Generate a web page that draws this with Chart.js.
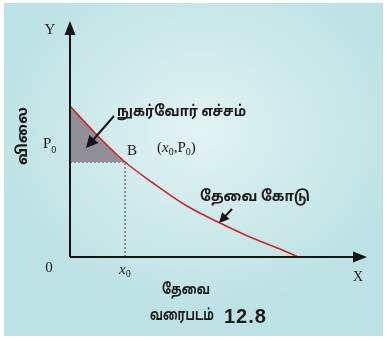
<!DOCTYPE html>
<html><head><meta charset="utf-8">
<script src="https://cdn.jsdelivr.net/npm/chart.js@4"></script>
<style>
html,body{margin:0;padding:0;background:#fff;width:387px;height:341px;overflow:hidden}
#bg{position:absolute;left:4px;top:3px;width:379px;height:333px;background:radial-gradient(ellipse 210px 180px at 196px 128px,#e3f3f2 0%,#cfeaeb 50%,#bde2e5 100%)}
#wrap{position:absolute;left:0;top:0;width:387px;height:341px}
</style></head><body>
<div id="bg"></div>
<div id="wrap"><canvas id="c" width="387" height="341"></canvas></div>
<script>
// demand curve (quantity, price)
const demandQty   = [0, 25, 55, 83, 117, 150, 180, 210, 228];
const demandPrice = [151, 124, 95, 74, 51, 34, 20, 8, 0];
const x0 = 55;      // equilibrium quantity
const p0 = 95;      // equilibrium price
const xMax = 297, yMax = 236;

const txtTamilSurplus = 'நுகர்வோர் எச்சம்';
const txtTamilDemandCurve = 'தேவை கோடு';
const txtTamilDemand = 'தேவை';
const txtTamilPrice = 'விலை';
const txtCaptionWord = 'வரைபடம்';
const txtCaptionNum = '12.8';

const tamilFont = '"Noto Sans Tamil","Lohit Tamil","Latha","Noto Sans",sans-serif';
const serif = '"Liberation Serif","DejaVu Serif",serif';
const sans = '"Liberation Sans","Arial",sans-serif';

const curveData = demandQty.map((q,i)=>({x:q,y:demandPrice[i]}));
const dottedData = [{x:0,y:p0},{x:x0,y:p0},{x:x0,y:0}];

function arrow(ctx, x1,y1,x2,y2, head, w){
  const a=Math.atan2(y2-y1,x2-x1);
  ctx.beginPath();ctx.moveTo(x1,y1);
  ctx.lineTo(x2-Math.cos(a)*head*0.8,y2-Math.sin(a)*head*0.8);ctx.stroke();
  ctx.beginPath();ctx.moveTo(x2,y2);
  ctx.lineTo(x2-Math.cos(a)*head+Math.sin(a)*w, y2-Math.sin(a)*head-Math.cos(a)*w);
  ctx.lineTo(x2-Math.cos(a)*head-Math.sin(a)*w, y2-Math.sin(a)*head+Math.cos(a)*w);
  ctx.closePath();ctx.fill();
}
function sub(ctx, parts, x, y){
  let cx=x;
  for(const [t,f,dy] of parts){ctx.font=f;ctx.fillText(t,cx,y+dy);cx+=ctx.measureText(t).width;}
}

const deco = {
  id:'deco',
  afterDraw(chart){
    const ctx=chart.ctx, xs=chart.scales.x, ys=chart.scales.y;
    const X=v=>xs.getPixelForValue(v), Y=v=>ys.getPixelForValue(v);
    ctx.save();
    ctx.strokeStyle='#151515';ctx.fillStyle='#151515';ctx.lineWidth=2;
    // axes
    ctx.beginPath();ctx.moveTo(X(0),Y(0));ctx.lineTo(X(0),Y(yMax)+12);ctx.stroke();
    ctx.beginPath();ctx.moveTo(X(0),Y(0));ctx.lineTo(X(xMax)-12,Y(0));ctx.stroke();
    ctx.beginPath();ctx.moveTo(X(0),Y(yMax));ctx.lineTo(X(0)-5.5,Y(yMax)+14);ctx.lineTo(X(0)+5.5,Y(yMax)+14);ctx.closePath();ctx.fill();
    ctx.beginPath();ctx.moveTo(X(xMax),Y(0));ctx.lineTo(X(xMax)-14,Y(0)-5.5);ctx.lineTo(X(xMax)-14,Y(0)+5.5);ctx.closePath();ctx.fill();
    // annotation arrows
    ctx.lineWidth=2;
    arrow(ctx,X(44),Y(141),X(16),Y(109),12,6);
    arrow(ctx,X(162),Y(48),X(149),Y(34),10,5);
    // texts
    ctx.fillStyle='#1a1a1a';ctx.textBaseline='middle';ctx.textAlign='center';
    ctx.font='15px '+serif;
    ctx.fillText('Y',X(0)-20,30);
    ctx.fillText('0',X(0)-21,268);
    ctx.font='14px '+serif;
    ctx.fillText('X',X(xMax)-9,277);
    ctx.textAlign='left';
    ctx.font='15px '+serif;
    ctx.fillText('B',X(x0)+2,Y(p0)-11);
    sub(ctx,[['P','15px '+serif,0],['0','10px '+serif,6]],X(0)-27,Y(p0)-18);
    sub(ctx,[['(','15px '+serif,0],['x','italic 15px '+serif,0],['0','10px '+serif,4],[',P','15px '+serif,0],['0','10px '+serif,4],[')','15px '+serif,0]],157,Y(p0)-14);
    sub(ctx,[['x','italic 15px '+serif,0],['0','10px '+serif,4]],X(x0)-6,Y(0)+13);
    ctx.font='bold 15px '+tamilFont;
    ctx.fillText(txtTamilSurplus,117,113,129);
    ctx.fillText(txtTamilDemandCurve,200,198,110);
    ctx.fillText(txtTamilDemand,162,291,48);
    ctx.font='bold 16px '+tamilFont;
    ctx.fillText(txtCaptionWord,150,317,64);
    ctx.font='bold 20px '+sans;
    ctx.letterSpacing='1px';
    ctx.fillText(txtCaptionNum,224,317);
    ctx.letterSpacing='0px';
    ctx.save();ctx.translate(24,136);ctx.rotate(-Math.PI/2);
    ctx.textAlign='center';
    ctx.font='bold 15px '+tamilFont;ctx.fillText(txtTamilPrice,0,0);ctx.restore();
    ctx.restore();
  }
};

new Chart(document.getElementById('c'),{
  type:'line',
  data:{datasets:[
    {data:curveData,borderColor:'#d3232a',borderWidth:1.6,pointRadius:0,cubicInterpolationMode:'monotone',
     fill:{target:{value:p0},above:'#8f8f95',below:'rgba(0,0,0,0)'},order:0},
    {data:dottedData,borderColor:'#3a3a3a',borderWidth:1,borderDash:[2,2],pointRadius:0,tension:0,fill:false,order:1}
  ]},
  options:{
    responsive:false,animation:false,devicePixelRatio:1,
    layout:{padding:{left:70,right:20,top:21,bottom:84}},
    plugins:{legend:{display:false},tooltip:{enabled:false}},
    scales:{
      x:{type:'linear',min:0,max:xMax,display:false},
      y:{type:'linear',min:0,max:yMax,display:false}
    }
  },
  plugins:[deco]
});
</script>
</body></html>
